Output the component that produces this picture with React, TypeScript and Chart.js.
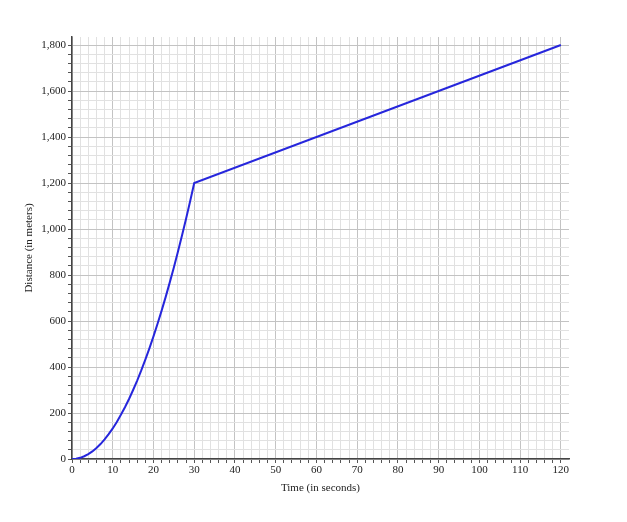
import React, { useEffect, useRef } from "react";
import { Chart, registerables } from "chart.js";

Chart.register(...registerables);

const timeSeconds = [
  0, 1, 2, 3, 4, 5, 6, 7, 8, 9, 10, 11, 12, 13, 14, 15, 16, 17, 18, 19, 20,
  21, 22, 23, 24, 25, 26, 27, 28, 29, 30, 120,
];
const distanceMeters = [
  0, 1, 5, 12, 21, 33, 48, 65, 85, 108, 133, 161, 192, 225, 261, 300, 341,
  385, 432, 481, 533, 588, 645, 705, 768, 833, 901, 972, 1045, 1121, 1200,
  1800,
];

const xTitle = "Time (in seconds)";
const yTitle = "Distance (in meters)";

const FONT = "'Liberation Serif', 'DejaVu Serif', serif";

export default function App() {
  const ref = useRef<HTMLCanvasElement | null>(null);

  useEffect(() => {
    document.body.style.margin = "0";
    const canvas = ref.current;
    if (!canvas) return;
    const points = timeSeconds.map((t, i) => ({ x: t, y: distanceMeters[i] }));
    const major = "rgba(195,195,195,1)";
    const minor = "rgba(225,225,225,1)";
    const chart = new Chart(canvas, {
      type: "scatter",
      data: {
        datasets: [
          {
            data: points,
            showLine: true,
            borderColor: "#2626dc",
            borderWidth: 2,
            pointRadius: 0,
            tension: 0,
            fill: false,
          },
        ],
      },
      options: {
        responsive: false,
        animation: false,
        layout: { padding: { left: 0, right: 58, top: 37, bottom: 27 } },
        plugins: { legend: { display: false }, tooltip: { enabled: false } },
        scales: {
          x: {
            type: "linear",
            min: 0,
            max: 122,
            afterBuildTicks: (s: any) => {
              s.ticks = s.ticks.filter((t: any) => t.value <= 120.0001);
            },
            afterFit: (s: any) => {
              s.height = 36;
            },
            ticks: {
              stepSize: 2,
              includeBounds: false,
              autoSkip: false,
              maxRotation: 0,
              padding: 1,
              color: "#222",
              font: { family: FONT, size: 11 },
              callback: (v: any) => (Number(v) % 10 === 0 ? String(v) : ""),
            },
            grid: {
              color: (c: any) =>
                c.tick && Math.round(c.tick.value) % 10 === 0 ? major : minor,
              tickColor: "#555",
              tickLength: 4,
              lineWidth: 1,
            },
            border: { color: "#444", width: 1.5 },
            title: {
              display: true,
              text: xTitle,
              color: "#222",
              font: { family: FONT, size: 11 },
              padding: { top: 4, bottom: 0 },
            },
          },
          y: {
            type: "linear",
            min: 0,
            max: 1835,
            afterBuildTicks: (s: any) => {
              s.ticks = s.ticks.filter((t: any) => t.value <= 1800.0001);
            },
            afterFit: (s: any) => {
              s.width = 72;
            },
            ticks: {
              stepSize: 40,
              includeBounds: false,
              autoSkip: false,
              padding: 2,
              color: "#222",
              font: { family: FONT, size: 11 },
              callback: (v: any) =>
                Math.round(Number(v)) % 200 === 0
                  ? Number(v).toLocaleString("en-US")
                  : "",
            },
            grid: {
              color: (c: any) =>
                c.tick && Math.round(c.tick.value) % 200 === 0 ? major : minor,
              tickColor: "#555",
              tickLength: 4,
              lineWidth: 1,
            },
            border: { color: "#444", width: 1.5 },
            title: {
              display: true,
              text: yTitle,
              color: "#222",
              font: { family: FONT, size: 11 },
              padding: { top: 23, bottom: 0 },
            },
          },
        },
      },
    });
    return () => chart.destroy();
  }, []);

  return (
    <div style={{ width: 627, height: 522 }}>
      <canvas
        ref={ref}
        width={627}
        height={522}
        style={{ display: "block", width: 627, height: 522 }}
      />
    </div>
  );
}
